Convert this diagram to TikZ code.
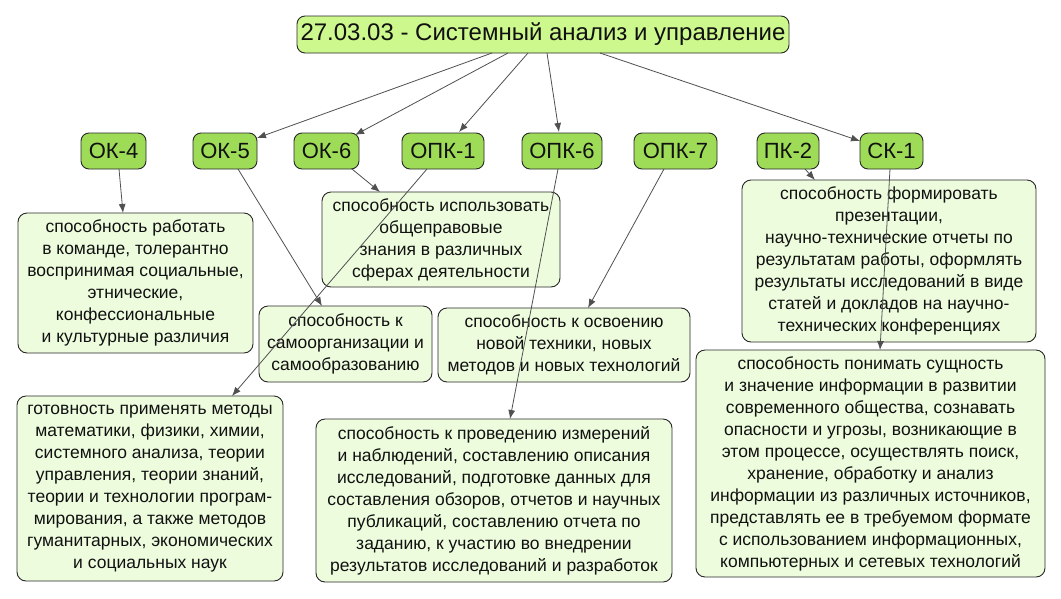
\documentclass[tikz,border=0pt]{standalone}
\usepackage{fontspec}
\setmainfont{Liberation Sans}
\usetikzlibrary{arrows.meta}
\definecolor{titlefill}{RGB}{204,248,142}
\definecolor{labfill}{RGB}{158,220,87}
\definecolor{descfill}{RGB}{238,252,222}
\definecolor{bordc}{RGB}{40,40,40}
\definecolor{edgec}{RGB}{80,80,80}
\definecolor{txtc}{RGB}{17,17,17}
\tikzset{
  titlebox/.style={draw=bordc, line width=0.9pt, fill=titlefill, rounded corners=8pt, inner sep=0pt, text=txtc, font=\fontsize{24}{28}\selectfont},
  labbox/.style={draw=bordc, line width=0.9pt, fill=labfill, rounded corners=8pt, inner sep=0pt, minimum height=36pt, text=txtc, font=\fontsize{22}{26}\selectfont},
  descbox/.style={draw=bordc, line width=0.9pt, fill=descfill, rounded corners=9pt, inner sep=0pt, align=center, text=txtc, font=\fontsize{17.5}{22}\selectfont},
  edge/.style={draw=edgec, line width=0.8pt, -{Latex[length=9pt,width=7pt]}}
}
\begin{document}
\begin{tikzpicture}[x=1pt,y=-1pt]
\useasboundingbox[fill=white] (0,0) rectangle (1061,598);
% title
\node[titlebox, minimum width=492pt, minimum height=37pt] (title) at (543,34.5) {27.03.03 - Системный анализ и управление};
% labels
\node[labbox, minimum width=65pt] (ok4) at (113.5,151) {ОК-4};
\node[labbox, minimum width=64pt] (ok5) at (225,151) {ОК-5};
\node[labbox, minimum width=65pt] (ok6) at (326.5,151) {ОК-6};
\node[labbox, minimum width=82pt] (opk1) at (443,151) {ОПК-1};
\node[labbox, minimum width=80pt] (opk6) at (562,151) {ОПК-6};
\node[labbox, minimum width=83pt] (opk7) at (675.5,151) {ОПК-7};
\node[labbox, minimum width=62pt] (pk2) at (788,151) {ПК-2};
\node[labbox, minimum width=63pt] (sk1) at (891.5,151) {СК-1};
% descriptions
\node[descbox, minimum width=235pt, minimum height=140pt] (dA) at (135.5,283) {способность работать\\в команде, толерантно\\воспринимая социальные,\\этнические,\\конфессиональные\\и культурные различия};
\node[descbox, minimum width=238pt, minimum height=95pt] (dB) at (441,239.5) {способность использовать\\общеправовые\\знания в различных\\сферах деятельности};
\node[descbox, minimum width=173pt, minimum height=76pt] (dC) at (345.5,344) {способность к\\самоорганизации и\\самообразованию};
\node[descbox, minimum width=252pt, minimum height=74pt] (dD) at (564,345) {способность к освоению\\новой техники, новых\\методов и новых технологий};
\node[descbox, minimum width=294pt, minimum height=162pt] (dE) at (889,261) {способность формировать\\презентации,\\научно-технические отчеты по\\результатам работы, оформлять\\результаты исследований в виде\\статей и докладов на научно-\\технических конференциях};
\node[descbox, minimum width=266pt, minimum height=185pt] (dF) at (150,488.5) {готовность применять методы\\математики, физики, химии,\\системного анализа, теории\\управления, теории знаний,\\теории и технологии програм-\\мирования, а также методов\\гуманитарных, экономических\\и социальных наук};
\node[descbox, minimum width=356pt, minimum height=163pt] (dG) at (494,500.5) {способность к проведению измерений\\и наблюдений, составлению описания\\исследований, подготовке данных для\\составления обзоров, отчетов и научных\\публикаций, составлению отчета по\\заданию, к участию во внедрении\\результатов исследований и разработок};
\node[descbox, minimum width=349pt, minimum height=227pt] (dH) at (870.5,463.5) {способность понимать сущность\\и значение информации в развитии\\современного общества, сознавать\\опасности и угрозы, возникающие в\\этом процессе, осуществлять поиск,\\хранение, обработку и анализ\\информации из различных источников,\\представлять ее в требуемом формате\\с использованием информационных,\\компьютерных и сетевых технологий};
% edges from title
\draw[edge] ([shift={(-51,18.5)}]title.center) -- ([shift={(32,-13)}]ok5.center);
\draw[edge] ([shift={(-35,18.5)}]title.center) -- ([shift={(28.5,-16)}]ok6.center);
\draw[edge] ([shift={(-15,18.5)}]title.center) -- ([shift={(16,-19)}]opk1.center);
\draw[edge] ([shift={(4,18.5)}]title.center) -- ([shift={(-3,-19)}]opk6.center);
\draw[edge] ([shift={(57,18.5)}]title.center) -- ([shift={(-31.5,-10)}]sk1.center);
% edges to descriptions
\draw[edge] ([shift={(5.5,18)}]ok4.center) -- ([shift={(-12.5,-70)}]dA.center);
\draw[edge] ([shift={(13,18)}]ok5.center) -- ([shift={(-23.5,-38)}]dC.center);
\draw[edge] ([shift={(25.5,18)}]ok6.center) -- ([shift={(-61,-47.5)}]dB.center);
\draw[edge] ([shift={(-16,18)}]opk1.center) -- ([shift={(82,-92.5)}]dF.center);
\draw[edge] ([shift={(-4,18)}]opk6.center) -- ([shift={(16,-81.5)}]dG.center);
\draw[edge] ([shift={(-11.5,18)}]opk7.center) -- ([shift={(24,-37)}]dD.center);
\draw[edge] ([shift={(17,18)}]pk2.center) -- ([shift={(-74,-81)}]dE.center);
\draw[edge] ([shift={(-1.5,18)}]sk1.center) -- ([shift={(9.5,-113.5)}]dH.center);
\end{tikzpicture}
\end{document}
